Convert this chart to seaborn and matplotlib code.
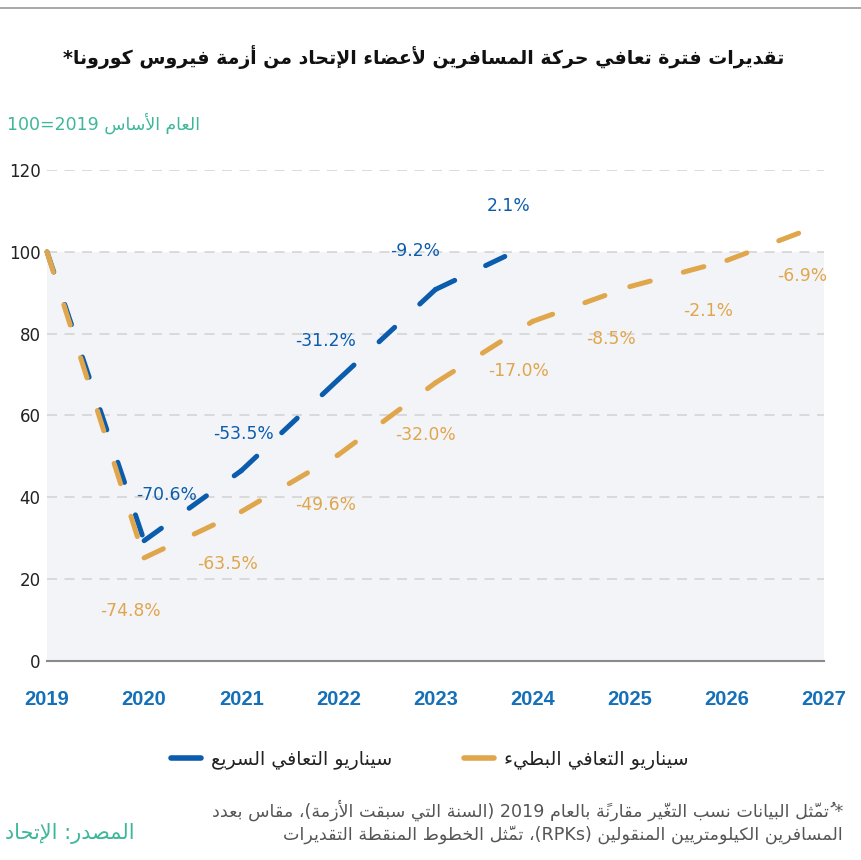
import numpy as np
import pandas as pd
import seaborn as sns
from matplotlib import pyplot as plt
from matplotlib.lines import Line2D

# === data ===
fast_years = [2019, 2020, 2021, 2022, 2023, 2024]
fast_values = [100, 29.4, 46.5, 68.8, 90.8, 102.1]
fast_labels = ['-70.6%', '-53.5%', '-31.2%', '-9.2%', '2.1%']

slow_years = [2019, 2020, 2021, 2022, 2023, 2024, 2025, 2026, 2027]
slow_values = [100, 25.2, 36.5, 50.4, 68.0, 83.0, 91.5, 97.9, 106.9]
slow_labels = ['-74.8%', '-63.5%', '-49.6%', '-32.0%', '-17.0%', '-8.5%', '-2.1%', '-6.9%']

y_ticks = [0, 20, 40, 60, 80, 100, 120]
x_ticks = slow_years

fast_name = 'سيناريو التعافي السريع'
slow_name = 'سيناريو التعافي البطيء'
title = 'تقديرات فترة تعافي حركة المسافرين لأعضاء الإتحاد من أزمة فيروس كورونا*'
base_label = 'العام الأساس 2019=100'
note_1 = '* تُمثّل البيانات نسب التغيّر مقارنةً بالعام 2019 (السنة التي سبقت الأزمة)، مقاس بعدد'
note_2 = 'المسافرين الكيلومتريين المنقولين (RPKs)، تمثّل الخطوط المنقطة التقديرات'
source = 'المصدر: الإتحاد'

BLUE = '#0b5cad'
ORANGE = '#e0a64c'
GREEN = '#3db79a'
PANEL = '#f3f4f8'


# --- minimal arabic shaping + right-to-left ordering (no bidi libs here) ---
AR = {
    'ء': (0xFE80, 1), 'آ': (0xFE81, 2), 'أ': (0xFE83, 2), 'ؤ': (0xFE85, 2),
    'إ': (0xFE87, 2), 'ئ': (0xFE89, 4), 'ا': (0xFE8D, 2), 'ب': (0xFE8F, 4),
    'ة': (0xFE93, 2), 'ت': (0xFE95, 4), 'ث': (0xFE99, 4), 'ج': (0xFE9D, 4),
    'ح': (0xFEA1, 4), 'خ': (0xFEA5, 4), 'د': (0xFEA9, 2), 'ذ': (0xFEAB, 2),
    'ر': (0xFEAD, 2), 'ز': (0xFEAF, 2), 'س': (0xFEB1, 4), 'ش': (0xFEB5, 4),
    'ص': (0xFEB9, 4), 'ض': (0xFEBD, 4), 'ط': (0xFEC1, 4), 'ظ': (0xFEC5, 4),
    'ع': (0xFEC9, 4), 'غ': (0xFECD, 4), 'ف': (0xFED1, 4), 'ق': (0xFED5, 4),
    'ك': (0xFED9, 4), 'ل': (0xFEDD, 4), 'م': (0xFEE1, 4), 'ن': (0xFEE5, 4),
    'ه': (0xFEE9, 4), 'و': (0xFEED, 2), 'ى': (0xFEEF, 2), 'ي': (0xFEF1, 4),
}
LAM_ALEF = {'آ': 0xFEF5, 'أ': 0xFEF7, 'إ': 0xFEF9, 'ا': 0xFEFB}
MARKS = {chr(c) for c in range(0x064B, 0x0653)}
MIRROR = {'(': ')', ')': '('}
LTR = set('0123456789ABCDEFGHIJKLMNOPQRSTUVWXYZabcdefghijklmnopqrstuvwxyz.%')


def ar(text):
    clusters = []
    for ch in text:
        if ch in MARKS and clusters:
            clusters[-1][1] += ch
        else:
            clusters.append([ch, ''])

    shaped = []
    joins = False
    i = 0
    while i < len(clusters):
        c, m = clusters[i]
        if c not in AR:
            shaped.append(c + m)
            joins = False
            i += 1
            continue
        nxt = clusters[i + 1][0] if i + 1 < len(clusters) else ''
        if c == 'ل' and nxt in LAM_ALEF:
            shaped.append(chr(LAM_ALEF[nxt] + joins) + m + clusters[i + 1][1])
            joins = False
            i += 2
            continue
        base, n = AR[c]
        nxt_ok = n == 4 and nxt in AR and AR[nxt][1] >= 2
        if n == 1:
            form = 0
        elif n == 2:
            form = 1 if joins else 0
        else:
            form = {(False, False): 0, (True, False): 1,
                    (False, True): 2, (True, True): 3}[(joins, nxt_ok)]
        shaped.append(chr(base + form) + m)
        joins = n == 4
        i += 1

    # group left-to-right runs (digits, latin) so they keep their order
    tokens = []
    for s in shaped:
        if s[0] in LTR and tokens and tokens[-1][0] in LTR:
            tokens[-1] += s
        else:
            tokens.append(s)
    return ''.join(MIRROR.get(t, t) for t in reversed(tokens))


def segments(name, years, values):
    # one unit per segment: the reference restarts the dash at every point
    rows = []
    for k in range(len(years) - 1):
        for j in (k, k + 1):
            rows.append({'year': years[j], 'value': values[j],
                         'scenario': name, 'segment': k})
    return rows


sns.set_theme(style='white')
plt.rcParams['font.family'] = ['DejaVu Sans']

df = pd.DataFrame(segments(fast_name, fast_years, fast_values)
                  + segments(slow_name, slow_years, slow_values))

fig = plt.figure(figsize=(8.61, 8.60), dpi=100)
ax = fig.add_axes([47 / 861, 199 / 860, 777 / 861, 491 / 860])

ax.axhspan(0, 100, color=PANEL, lw=0, zorder=0)
sns.lineplot(data=df, x='year', y='value', hue='scenario', units='segment',
             estimator=None, hue_order=[fast_name, slow_name],
             palette=[BLUE, ORANGE], linewidth=3.6, legend=False, sort=False, ax=ax)
for line in ax.lines:
    line.set_linestyle((0, (4.25, 6.85)))
    line.set_dash_capstyle('round')
    line.set_clip_on(False)

# percentage labels next to each point
fast_offsets = [(22, 46), (2, 37), (-13, 38), (-20, 38), (-24, 37)]
slow_offsets = [(-14, -53), (-14, -52), (-13, -50), (-10, -52), (-14, -50),
                (-19, -52), (-19, -51), (-22, -52)]
for x, y, lab, off in zip(fast_years[1:], fast_values[1:], fast_labels, fast_offsets):
    ax.annotate(lab, (x, y), xytext=off, textcoords='offset pixels',
                ha='center', va='center', color=BLUE, fontsize=12.3)
for x, y, lab, off in zip(slow_years[1:], slow_values[1:], slow_labels, slow_offsets):
    ax.annotate(lab, (x, y), xytext=off, textcoords='offset pixels',
                ha='center', va='center', color=ORANGE, fontsize=12.3)

ax.set_xlim(2019, 2027)
ax.set_ylim(0, 120)
ax.set_xticks(x_ticks)
ax.set_yticks(y_ticks)
ax.set_xlabel('')
ax.set_ylabel('')
ax.yaxis.grid(True, color='#d4d4d4', linestyle=(0, (6, 4.5)), lw=1.2)
ax.xaxis.grid(False)
ax.set_axisbelow(True)
sns.despine(ax=ax, left=True)
ax.spines['bottom'].set_color('#8a8a8a')
ax.spines['bottom'].set_linewidth(1.5)
ax.tick_params(axis='x', direction='in', length=5, width=1.3, color='#8a8a8a',
               pad=21, labelsize=14.5, labelcolor='#1570b8')
ax.tick_params(axis='y', length=0, pad=4.5, labelsize=12, labelcolor='#222222')
for t in ax.get_xticklabels():
    t.set_fontfamily('Liberation Sans')
    t.set_fontweight('bold')

# legend with solid handles like the reference
handles = [Line2D([], [], color=BLUE, lw=4, solid_capstyle='round'),
           Line2D([], [], color=ORANGE, lw=4, solid_capstyle='round')]
fig.legend(handles, [ar(fast_name), ar(slow_name)], loc='center',
           bbox_to_anchor=(430 / 861, 1 - 760 / 860), ncol=2, frameon=False,
           fontsize=13.7, handlelength=1.55, handletextpad=0.53, columnspacing=3.8,
           labelcolor='#222222')

fig.text(424 / 861, 1 - 57 / 860, ar(title), ha='center', va='center',
         fontsize=13.6, fontweight='bold', color='#111111')
fig.text(7 / 861, 1 - 123 / 860, ar(base_label), ha='left', va='center',
         fontsize=12.5, color=GREEN)
fig.text(843 / 861, 1 - 810 / 860, ar(note_1), ha='right', va='center',
         fontsize=12.6, color='#555555')
fig.text(843 / 861, 1 - 835 / 860, ar(note_2), ha='right', va='center',
         fontsize=12.6, color='#555555')
fig.text(5 / 861, 1 - 834 / 860, ar(source), ha='left', va='center',
         fontsize=15, color=GREEN)
fig.add_artist(Line2D([0, 1], [1 - 8 / 860] * 2, transform=fig.transFigure,
                      color='#9a9a9a', lw=1.2))

fig.savefig('out.png', dpi=100)
